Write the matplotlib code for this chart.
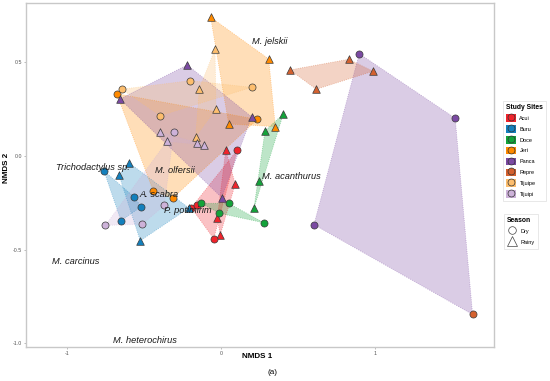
import numpy as np
import matplotlib
matplotlib.use("Agg")
import matplotlib.pyplot as plt
from matplotlib.patches import Polygon, Rectangle
from matplotlib.lines import Line2D
from matplotlib.legend_handler import HandlerTuple

plt.rcParams['font.family'] = ['Liberation Sans', 'DejaVu Sans']

# ---------------- data ----------------
sites = ["Acui", "Buru", "Doce", "Jeri", "Panca", "Repre", "Tijuipe", "Tijuipi"]
site_colors = ["#F0232B", "#1380BD", "#13A33A", "#FF8A00", "#7B4AA3", "#D4612F", "#FDBE6E", "#CDB2D9"]

point_site = (["Acui"] * 8 + ["Buru"] * 8 + ["Doce"] * 8 + ["Jeri"] * 8 +
              ["Panca"] * 7 + ["Repre"] * 5 + ["Tijuipe"] * 8 + ["Tijuipi"] * 8)
point_season = (["Rainy"] * 4 + ["Dry"] * 4 +          # Acui
                ["Rainy"] * 4 + ["Dry"] * 4 +          # Buru
                ["Rainy"] * 4 + ["Dry"] * 4 +          # Doce
                ["Rainy"] * 4 + ["Dry"] * 4 +          # Jeri
                ["Rainy"] * 4 + ["Dry"] * 3 +          # Panca
                ["Rainy"] * 4 + ["Dry"] +              # Repre
                ["Rainy"] * 4 + ["Dry"] * 4 +          # Tijuipe
                ["Rainy"] * 4 + ["Dry"] * 4)           # Tijuipi
hull_group = [s + "-" + se for s, se in zip(point_site, point_season)]
hull_group[43] = "Panca-Dry"   # the lone Repre dry sample sits in the Panca dry hull

nmds1 = [0.031, 0.093, -0.024, -0.005, 0.106, -0.193, -0.154, -0.047,
         -0.208, -0.597, -0.662, -0.524, -0.760, -0.565, -0.519, -0.649,
         0.286, 0.405, 0.249, 0.214, -0.128, 0.050, -0.011, 0.279,
         -0.067, 0.310, 0.050, 0.353, -0.677, 0.236, -0.440, -0.314,
         -0.219, -0.656, 0.199, 0.005, 0.898, 1.521, 0.604,
         0.448, 0.829, 0.987, 0.619, 1.634,
         -0.039, -0.141, -0.032, -0.164, -0.199, 0.199, -0.645, -0.394,
         -0.396, -0.353, -0.158, -0.108, -0.307, -0.368, -0.751, -0.511]
nmds2 = [0.032, -0.150, -0.333, -0.422, 0.032, -0.276, -0.262, -0.442,
         -0.278, -0.036, -0.102, -0.453, -0.079, -0.218, -0.271, -0.346,
         0.134, 0.225, -0.134, -0.280, -0.253, -0.253, -0.306, -0.357,
         0.742, 0.519, 0.171, 0.157, 0.333, 0.196, -0.186, -0.226,
         0.487, 0.305, 0.210, -0.223, 0.547, 0.202, -0.367,
         0.460, 0.517, 0.453, 0.357, -0.847,
         0.571, 0.358, 0.253, 0.103, 0.403, 0.367, 0.357, 0.216,
         0.127, 0.079, 0.071, 0.060, 0.127, -0.264, -0.371, -0.365]

species = ["M. jelskii", "Trichodactylus sp.", "M. olfersii", "M. acanthurus",
           "A. scabra", "P. potimirim", "M. carcinus", "M. heterochirus"]
species_x = [0.318, -0.831, -0.297, 0.460, -0.404, -0.216, -0.946, -0.495]
species_y = [0.610, -0.060, -0.075, -0.107, -0.205, -0.291, -0.565, -0.984]

x_ticks = [-1, 0, 1]
y_ticks = [-1.0, -0.5, 0.0, 0.5]
season_markers = {"Dry": "o", "Rainy": "^"}

# ---------------- helpers ----------------
def convex_hull(pts):
    pts = sorted(map(tuple, pts))
    if len(pts) < 3:
        return pts
    def cross(o, a, b):
        return (a[0] - o[0]) * (b[1] - o[1]) - (a[1] - o[1]) * (b[0] - o[0])
    lower, upper = [], []
    for p in pts:
        while len(lower) >= 2 and cross(lower[-2], lower[-1], p) <= 0:
            lower.pop()
        lower.append(p)
    for p in reversed(pts):
        while len(upper) >= 2 and cross(upper[-2], upper[-1], p) <= 0:
            upper.pop()
        upper.append(p)
    return lower[:-1] + upper[:-1]

color_of = dict(zip(sites, site_colors))
x = np.array(nmds1)
y = np.array(nmds2)

# ---------------- figure ----------------
fig = plt.figure(figsize=(5.5, 3.81), dpi=100)
ax = fig.add_axes([26 / 550, 1 - 347 / 381, 468 / 550, 344 / 381])

for g in dict.fromkeys(hull_group):
    idx = [i for i, h in enumerate(hull_group) if h == g]
    if len(idx) < 3:
        continue
    col = color_of[g.split("-")[0]]
    hull = convex_hull(np.column_stack([x[idx], y[idx]]))
    ax.add_patch(Polygon(hull, closed=True, facecolor=col, alpha=0.28,
                         edgecolor="none", zorder=1))
    ax.add_patch(Polygon(hull, closed=True, facecolor="none", edgecolor=col,
                         alpha=0.45, lw=0.6, ls=":", zorder=1.5))

for i in range(len(x)):
    ax.scatter(x[i], y[i], s=30 if point_season[i] == "Rainy" else 26,
               marker=season_markers[point_season[i]],
               facecolor=color_of[point_site[i]], edgecolor="#3a3a3a",
               linewidth=0.5, zorder=3)

for t, sx, sy in zip(species, species_x, species_y):
    ax.text(sx, sy, t, fontsize=6.7, style="italic", ha="center", va="center",
            color="#1a1a1a", zorder=4)

ax.set_xlim(-1.266, 1.773)
ax.set_ylim(-1.021, 0.818)
ax.set_xticks(x_ticks)
ax.set_xticklabels([f"{v:g}" for v in x_ticks])
ax.set_yticks(y_ticks)
ax.set_yticklabels([f"{v:.1f}" for v in y_ticks])
ax.tick_params(labelsize=3.8, labelcolor="#555555", color="#888888",
               length=1.5, width=0.4, pad=1.5)
for sp in ax.spines.values():
    sp.set_color("#C8C8C8")
    sp.set_linewidth(1.0)

fig.text(257 / 550, 1 - 357 / 381, "NMDS 1", fontsize=5.8, fontweight="bold",
         ha="center", va="center")
fig.text(272 / 550, 1 - 372 / 381, "(a)", fontsize=5.8, ha="center", va="center")
fig.text(7 / 550, 1 - 168 / 381, "NMDS 2", fontsize=5.8, fontweight="bold",
         ha="center", va="center", rotation=90)

# ---------------- legends ----------------
common = dict(loc="upper left", fontsize=4.0, title_fontsize=4.9, frameon=True,
              fancybox=False, edgecolor="#DDDDDD", handlelength=1.7,
              handleheight=1.7, handletextpad=0.7, labelspacing=0.6,
              borderpad=0.6, alignment="left")

site_handles = [(Rectangle((0, 0), 1, 1, facecolor=c, edgecolor="none"),
                 Line2D([], [], marker="o", ls="", mfc=c, mec="#333333", mew=0.5, ms=5))
                for c in site_colors]
leg1 = fig.legend(site_handles, sites, title="Study Sites",
                  handler_map={tuple: HandlerTuple(ndivide=1, pad=0)},
                  bbox_to_anchor=(500 / 550, 1 - 98 / 381), **common)
leg1.get_title().set_fontweight("bold")
leg1.get_frame().set_linewidth(0.6)

season_handles = [Line2D([], [], marker="o", ls="", mfc="none", mec="#444444", mew=0.5, ms=5.5),
                  Line2D([], [], marker="^", ls="", mfc="none", mec="#444444", mew=0.5, ms=6.5)]
leg2 = fig.legend(season_handles, ["Dry", "Rainy"], title="Season",
                  bbox_to_anchor=(501 / 550, 1 - 211 / 381), **common)
leg2.get_title().set_fontweight("bold")
leg2.get_frame().set_linewidth(0.6)

fig.savefig("out.png", dpi=100)
